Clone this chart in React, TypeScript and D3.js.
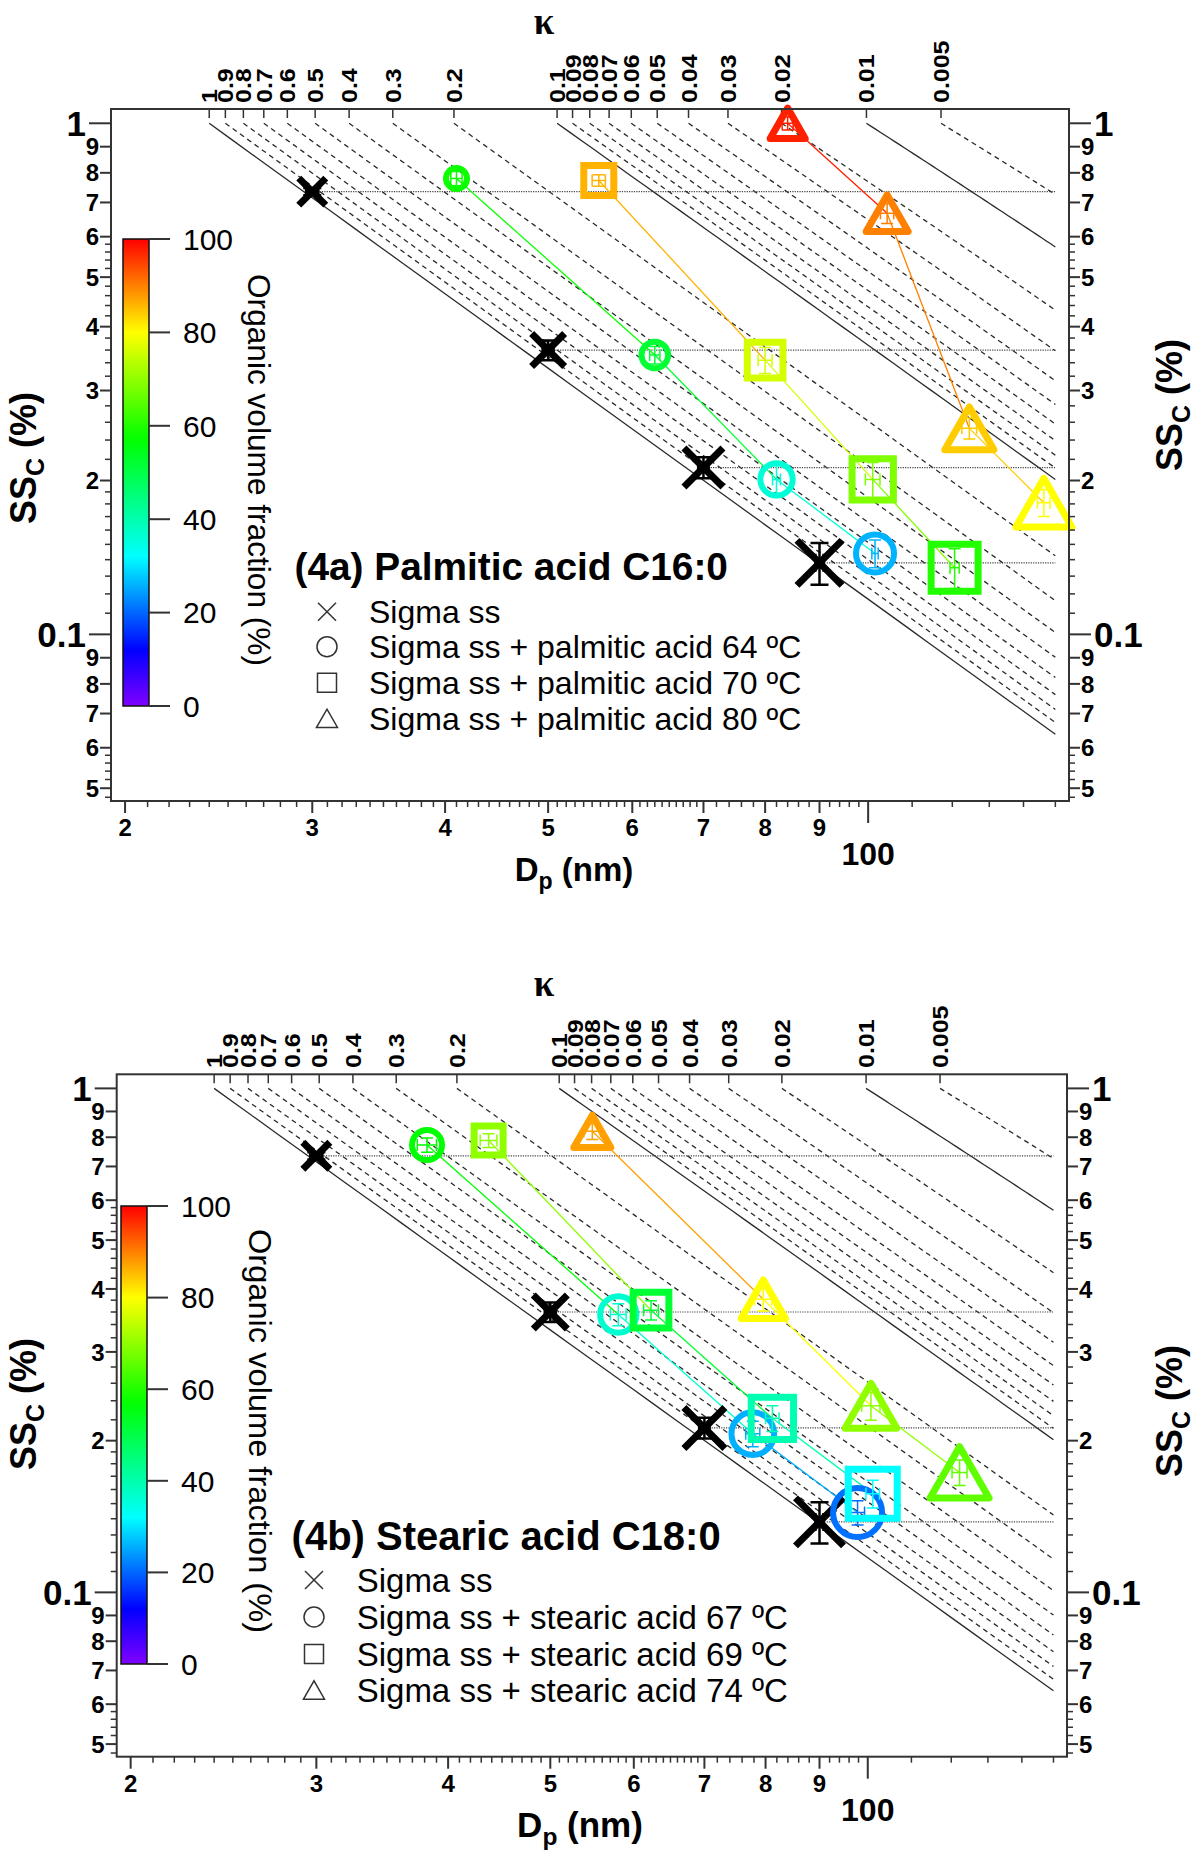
import React, { useEffect, useRef } from 'react';
import * as d3 from 'd3';

const W = 1200;
const H = 1864;
const SANS = "'Liberation Sans', Arial, Helvetica, sans-serif";
const SERIF = "'Liberation Serif', 'Times New Roman', serif";

// kappa isolines (top axis)
const kappaValues = [1, 0.9, 0.8, 0.7, 0.6, 0.5, 0.4, 0.3, 0.2, 0.1, 0.09, 0.08, 0.07, 0.06, 0.05, 0.04, 0.03, 0.02, 0.01, 0.005];
const kappaLabels = ['1', '0.9', '0.8', '0.7', '0.6', '0.5', '0.4', '0.3', '0.2', '0.1', '0.09', '0.08', '0.07', '0.06', '0.05', '0.04', '0.03', '0.02', '0.01', '0.005'];
const kappaSolid = [1, 0.1, 0.01];

// axis ticks
const dpLabelTicks = [20, 30, 40, 50, 60, 70, 80, 90];
const dpLabelText = ['2', '3', '4', '5', '6', '7', '8', '9'];
const dpMajorTicks = [100];
const dpMajorText = ['100'];
const ssMajorTicks = [0.1, 1];
const ssMajorText = ['0.1', '1'];
const ssLabelTicks = [0.05, 0.06, 0.07, 0.08, 0.09, 0.2, 0.3, 0.4, 0.5, 0.6, 0.7, 0.8, 0.9];
const ssLabelText = ['5', '6', '7', '8', '9', '2', '3', '4', '5', '6', '7', '8', '9'];
const cbarTicks = [0, 20, 40, 60, 80, 100];

// Sigma ss (same in both panels)
const sigmaDp = [30, 50, 70, 90];
const sigmaSS = [0.735, 0.36, 0.212, 0.138];
const sigmaSSErr = [0.012, 0.016, 0.01, 0.013];
const sigmaDpErr = [0.4, 0.6, 0.8, 0.8];

// (4a) Sigma ss + palmitic acid
const palm64Dp = [41, 63, 82, 101.5];
const palm64SS = [0.78, 0.352, 0.201, 0.144];
const palm64Org = [58, 52, 36, 26];
const palm64SSErr = [0.025, 0.014, 0.013, 0.009];
const palm64DpErr = [0.5, 0.7, 0.7, 0.7];

const palm70Dp = [55.8, 80, 101, 120.6];
const palm70SS = [0.773, 0.344, 0.201, 0.135];
const palm70Org = [86, 76, 68.5, 60];
const palm70SSErr = [0.02, 0.02, 0.016, 0.012];
const palm70DpErr = [0.8, 1.2, 1.6, 1.2];

const palm80Dp = [84, 104.2, 124.5, 146.3];
const palm80SS = [1.0, 0.667, 0.253, 0.181];
const palm80Org = [97.5, 90, 84, 80];
const palm80SSErr = [0.03, 0.03, 0.012, 0.011];
const palm80DpErr = [1.0, 1.5, 2.0, 2.0];

// (4b) Sigma ss + stearic acid
const stear67Dp = [38.2, 58, 77.8, 97.8];
const stear67SS = [0.772, 0.356, 0.2065, 0.144];
const stear67Org = [57, 36.6, 25.8, 20.8];
const stear67SSErr = [0.025, 0.018, 0.012, 0.008];
const stear67DpErr = [0.8, 1.0, 1.2, 1.5];

const stear69Dp = [43.7, 62.3, 81.2, 101.1];
const stear69SS = [0.788, 0.363, 0.2215, 0.157];
const stear69Org = [70, 52, 39.7, 32];
const stear69SSErr = [0.025, 0.016, 0.013, 0.01];
const stear69DpErr = [0.8, 1.0, 1.2, 1.5];

const stear74Dp = [54.8, 79.6, 100.7, 122.2];
const stear74SS = [0.822, 0.3815, 0.2345, 0.173];
const stear74Org = [87.5, 80, 70, 65.6];
const stear74SSErr = [0.03, 0.02, 0.015, 0.01];
const stear74DpErr = [1.0, 1.5, 2.0, 2.0];

const dpDomain: [number, number] = [19.4, 154.5];
const ssDomain: [number, number] = [0.0472, 1.0665];
const DP_END = 150;
const A_KELVIN = 2.1; // nm

const orgColor = d3
  .scaleLinear<string>()
  .domain([0, 12, 32, 57, 80, 100])
  .range(['#8000ff', '#0000ff', '#00ffff', '#00ff00', '#ffff00', '#ff0000'])
  .interpolate(d3.interpolateRgb)
  .clamp(true);

// kappa-Koehler critical supersaturation (%) for a dry diameter (nm)
function critSS(dry: number, kappa: number): number {
  const d3c = dry * dry * dry;
  const lnS = (lnw: number) => {
    const dw = Math.exp(lnw);
    const w3 = dw * dw * dw;
    return Math.log((w3 - d3c) / (w3 - d3c * (1 - kappa))) + A_KELVIN / dw;
  };
  const lo = Math.log(dry * 1.0005);
  const hi = Math.log(dry * 60);
  const n = 200;
  let bi = 0;
  let best = -Infinity;
  for (let i = 0; i <= n; i++) {
    const v = lnS(lo + ((hi - lo) * i) / n);
    if (v > best) { best = v; bi = i; }
  }
  let a = lo + ((hi - lo) * Math.max(bi - 1, 0)) / n;
  let b = lo + ((hi - lo) * Math.min(bi + 1, n)) / n;
  const gr = (Math.sqrt(5) - 1) / 2;
  for (let k = 0; k < 40; k++) {
    const c = b - gr * (b - a);
    const d = a + gr * (b - a);
    if (lnS(c) > lnS(d)) b = d; else a = c;
  }
  best = Math.max(best, lnS((a + b) / 2));
  return (Math.exp(best) - 1) * 100;
}

function dpAtOnePercent(kappa: number): number {
  let lo = Math.log(5);
  let hi = Math.log(1000);
  for (let i = 0; i < 50; i++) {
    const mid = (lo + hi) / 2;
    if (critSS(Math.exp(mid), kappa) > 1) lo = mid; else hi = mid;
  }
  return Math.exp((lo + hi) / 2);
}

const kappaCurves = kappaValues.map(k => {
  const d0 = dpAtOnePercent(k);
  const pts: [number, number][] = d3.range(0, 41).map(j => {
    const D = d0 * Math.pow(DP_END / d0, j / 40);
    return [D, j === 0 ? 1 : critSS(D, k)];
  });
  return { k, d0, pts };
});

type Shape = 'cross' | 'circle' | 'square' | 'triangle';
interface Series {
  shape: Shape;
  label: string;
  dp: number[];
  ss: number[];
  org: number[] | null;
  ssErr: number[];
  dpErr: number[];
  sizeRange: [number, number];
}

interface Panel {
  key: string;
  xRange: [number, number];
  yRange: [number, number];
  kappaSym: [number, number];
  kappaLabelY: number;
  ssLeft: [number, number];
  ssRight: [number, number];
  dpLabel: [number, number];
  dpSize: number;
  cbar: { x: number; top: number; bottom: number };
  cbarLabel: [number, number];
  cbarLabelLen: number;
  title: string;
  titlePos: [number, number];
  titleSize: number;
  legendSymX: number;
  legendTextX: number;
  legendRows: number[];
  legendSize: number;
  series: Series[];
}

const panels: Panel[] = [
  {
    key: 'a',
    xRange: [111, 1069],
    yRange: [801, 109],
    kappaSym: [544, 34],
    kappaLabelY: 103,
    ssLeft: [36, 458],
    ssRight: [1182, 405],
    dpLabel: [574, 881],
    dpSize: 33,
    cbar: { x: 123, top: 239, bottom: 706 },
    cbarLabel: [248, 470],
    cbarLabelLen: 392,
    title: '(4a) Palmitic acid C16:0',
    titlePos: [294.5, 580],
    titleSize: 38.8,
    legendSymX: 327,
    legendTextX: 369,
    legendRows: [611.7, 646.7, 682.7, 718.3],
    legendSize: 32,
    series: [
      { shape: 'cross', label: 'Sigma ss', dp: sigmaDp, ss: sigmaSS, org: null, ssErr: sigmaSSErr, dpErr: sigmaDpErr, sizeRange: [34, 52] },
      { shape: 'circle', label: 'Sigma ss + palmitic acid 64 \u00BAC', dp: palm64Dp, ss: palm64SS, org: palm64Org, ssErr: palm64SSErr, dpErr: palm64DpErr, sizeRange: [27, 44] },
      { shape: 'square', label: 'Sigma ss + palmitic acid 70 \u00BAC', dp: palm70Dp, ss: palm70SS, org: palm70Org, ssErr: palm70SSErr, dpErr: palm70DpErr, sizeRange: [37, 54] },
      { shape: 'triangle', label: 'Sigma ss + palmitic acid 80 \u00BAC', dp: palm80Dp, ss: palm80SS, org: palm80Org, ssErr: palm80SSErr, dpErr: palm80DpErr, sizeRange: [42, 63] }
    ]
  },
  {
    key: 'b',
    xRange: [116.7, 1067],
    yRange: [1756.7, 1074.3],
    kappaSym: [544, 996],
    kappaLabelY: 1068,
    ssLeft: [36, 1404],
    ssRight: [1182, 1411],
    dpLabel: [580, 1837],
    dpSize: 35,
    cbar: { x: 121, top: 1206, bottom: 1664 },
    cbarLabel: [249, 1431],
    cbarLabelLen: 404,
    title: '(4b) Stearic acid C18:0',
    titlePos: [291.6, 1550],
    titleSize: 40,
    legendSymX: 314,
    legendTextX: 356.7,
    legendRows: [1580, 1617, 1654, 1690],
    legendSize: 33,
    series: [
      { shape: 'cross', label: 'Sigma ss', dp: sigmaDp, ss: sigmaSS, org: null, ssErr: sigmaSSErr, dpErr: sigmaDpErr, sizeRange: [34, 55] },
      { shape: 'circle', label: 'Sigma ss + stearic acid 67 \u00BAC', dp: stear67Dp, ss: stear67SS, org: stear67Org, ssErr: stear67SSErr, dpErr: stear67DpErr, sizeRange: [36, 55] },
      { shape: 'square', label: 'Sigma ss + stearic acid 69 \u00BAC', dp: stear69Dp, ss: stear69SS, org: stear69Org, ssErr: stear69SSErr, dpErr: stear69DpErr, sizeRange: [36, 56] },
      { shape: 'triangle', label: 'Sigma ss + stearic acid 74 \u00BAC', dp: stear74Dp, ss: stear74SS, org: stear74Org, ssErr: stear74SSErr, dpErr: stear74DpErr, sizeRange: [44, 66] }
    ]
  }
];

// minor ticks
const dpSubTicks = [
  ...d3.range(21, 70).filter(v => v % 10 !== 0),
  72, 74, 76, 78, 82, 84, 86, 88, 92, 94, 96, 98,
  110, 120, 130, 140, 150
];
const ssSubTicks: number[] = [];
[0.01, 0.1].forEach(base => {
  [1.1, 1.2, 1.3, 1.4, 1.5, 1.6, 1.7, 1.8, 1.9, 2.2, 2.4, 2.6, 2.8, 3.2, 3.4, 3.6, 3.8, 4.2, 4.4, 4.6, 4.8, 5.2, 5.4, 5.6, 5.8].forEach(m => {
    const v = base * m;
    if (v > ssDomain[0] && v < ssDomain[1]) ssSubTicks.push(v);
  });
});

type G = d3.Selection<SVGGElement, unknown, null, undefined>;

function markerPath(shape: Shape, cx: number, cy: number, s: number): string {
  const h = s / 2;
  if (shape === 'cross') return `M${cx - h},${cy - h}L${cx + h},${cy + h}M${cx - h},${cy + h}L${cx + h},${cy - h}`;
  if (shape === 'square') return `M${cx - h},${cy - h}H${cx + h}V${cy + h}H${cx - h}Z`;
  if (shape === 'triangle') {
    const th = s * 0.87;
    return `M${cx - h},${cy + th / 2}L${cx},${cy - th / 2}L${cx + h},${cy + th / 2}Z`;
  }
  return `M${cx + h},${cy}A${h},${h} 0 1,1 ${cx - h},${cy}A${h},${h} 0 1,1 ${cx + h},${cy}Z`;
}

const markerStroke: Record<Shape, number> = { cross: 7, circle: 6, square: 7, triangle: 7 };

function drawPanel(svg: d3.Selection<SVGSVGElement, unknown, null, undefined>, p: Panel) {
  const x = d3.scaleLog().domain(dpDomain).range(p.xRange);
  const y = d3.scaleLog().domain(ssDomain).range(p.yRange);
  const [xL, xR] = p.xRange;
  const [yB, yT] = p.yRange;
  const g: G = svg.append('g').attr('font-family', SANS);
  const axisColor = '#333';

  // kappa isolines
  const line = d3.line<[number, number]>().x(d => x(d[0])).y(d => y(d[1]));
  const kg = g.append('g');
  kappaCurves.forEach((c, i) => {
    kg.append('path')
      .attr('d', line(c.pts) as string)
      .attr('fill', 'none')
      .attr('stroke', '#2a2a2a')
      .attr('stroke-width', 1.3)
      .attr('stroke-dasharray', kappaSolid.includes(c.k) ? null : '5,4');
    kg.append('line')
      .attr('x1', x(c.d0)).attr('x2', x(c.d0))
      .attr('y1', yT).attr('y2', yT + 9)
      .attr('stroke', axisColor).attr('stroke-width', 1.5);
    kg.append('text')
      .attr('transform', `translate(${x(c.d0) + 8},${p.kappaLabelY}) rotate(-90) scale(1,0.9)`)
      .attr('font-size', 25)
      .attr('font-weight', 'bold')
      .attr('fill', '#000')
      .text(kappaLabels[i]);
  });
  g.append('text')
    .attr('x', p.kappaSym[0])
    .attr('y', p.kappaSym[1])
    .attr('text-anchor', 'middle')
    .attr('font-family', SERIF)
    .attr('font-weight', 'bold')
    .attr('font-size', 37)
    .text('\u03BA');

  // dotted reference lines at the Sigma ss supersaturations
  sigmaSS.forEach((s, i) => {
    g.append('line')
      .attr('x1', x(sigmaDp[i])).attr('x2', x(DP_END))
      .attr('y1', y(s)).attr('y2', y(s))
      .attr('stroke', '#444')
      .attr('stroke-width', 1.2)
      .attr('stroke-dasharray', '1.2,1.2');
  });

  // connecting lines, each segment coloured by its starting point
  p.series.forEach(s => {
    if (!s.org) return;
    for (let i = 0; i < s.dp.length - 1; i++) {
      g.append('line')
        .attr('x1', x(s.dp[i])).attr('y1', y(s.ss[i]))
        .attr('x2', x(s.dp[i + 1])).attr('y2', y(s.ss[i + 1]))
        .attr('stroke', orgColor(s.org[i]))
        .attr('stroke-width', 1.3);
    }
  });

  // markers with error bars
  p.series.forEach(s => {
    const size = d3.scaleLinear().domain([0, s.dp.length - 1]).range(s.sizeRange);
    s.dp.forEach((dp, i) => {
      const color = s.org ? orgColor(s.org[i]) : '#000';
      const cx = x(dp);
      const cy = y(s.ss[i]);
      const sw = markerStroke[s.shape];
      const ew = s.org ? 1.5 : 2.5;
      const cap = s.org ? 6 : 9;
      const eg = g.append('g').attr('stroke', color).attr('stroke-width', ew).attr('fill', 'none');
      const y1 = y(s.ss[i] + s.ssErr[i]);
      const y2 = y(s.ss[i] - s.ssErr[i]);
      const x1 = x(dp - s.dpErr[i]);
      const x2 = x(dp + s.dpErr[i]);
      eg.append('path').attr('d',
        `M${cx},${y1}V${y2}M${cx - cap},${y1}H${cx + cap}M${cx - cap},${y2}H${cx + cap}` +
        `M${x1},${cy}H${x2}M${x1},${cy - cap}V${cy + cap}M${x2},${cy - cap}V${cy + cap}`);
      g.append('path')
        .attr('d', markerPath(s.shape, cx, cy, size(i) - sw))
        .attr('fill', 'none')
        .attr('stroke', color)
        .attr('stroke-width', sw)
        .attr('stroke-linejoin', s.shape === 'triangle' ? 'round' : 'miter');
    });
  });

  // frame
  g.append('rect')
    .attr('x', xL).attr('y', yT)
    .attr('width', xR - xL).attr('height', yB - yT)
    .attr('fill', 'none').attr('stroke', axisColor).attr('stroke-width', 2);

  // y ticks, both sides
  const yTick = (v: number, len: number, w: number) => {
    g.append('line').attr('x1', xL - len).attr('x2', xL).attr('y1', y(v)).attr('y2', y(v))
      .attr('stroke', axisColor).attr('stroke-width', w);
    g.append('line').attr('x1', xR).attr('x2', xR + len).attr('y1', y(v)).attr('y2', y(v))
      .attr('stroke', axisColor).attr('stroke-width', w);
  };
  ssSubTicks.forEach(v => yTick(v, 6, 1.5));
  ssLabelTicks.forEach((v, i) => {
    yTick(v, 11, 2);
    g.append('text').attr('x', xL - 12).attr('y', y(v)).attr('dy', '0.36em')
      .attr('text-anchor', 'end').attr('font-size', 24).attr('font-weight', 'bold').text(ssLabelText[i]);
    g.append('text').attr('x', xR + 12).attr('y', y(v)).attr('dy', '0.36em')
      .attr('text-anchor', 'start').attr('font-size', 24).attr('font-weight', 'bold').text(ssLabelText[i]);
  });
  ssMajorTicks.forEach((v, i) => {
    yTick(v, 22, 2);
    g.append('text').attr('x', xL - 25).attr('y', y(v)).attr('dy', '0.36em')
      .attr('text-anchor', 'end').attr('font-size', 35).attr('font-weight', 'bold').text(ssMajorText[i]);
    g.append('text').attr('x', xR + 25).attr('y', y(v)).attr('dy', '0.36em')
      .attr('text-anchor', 'start').attr('font-size', 35).attr('font-weight', 'bold').text(ssMajorText[i]);
  });

  // x ticks
  const xTick = (v: number, len: number, w: number) => {
    g.append('line').attr('x1', x(v)).attr('x2', x(v)).attr('y1', yB).attr('y2', yB + len)
      .attr('stroke', axisColor).attr('stroke-width', w);
  };
  dpSubTicks.forEach(v => xTick(v, 6, 1.5));
  dpLabelTicks.forEach((v, i) => {
    xTick(v, 12, 2);
    g.append('text').attr('x', x(v)).attr('y', yB + 35).attr('text-anchor', 'middle')
      .attr('font-size', 24).attr('font-weight', 'bold').text(dpLabelText[i]);
  });
  dpMajorTicks.forEach((v, i) => {
    xTick(v, 22, 2);
    g.append('text').attr('x', x(v)).attr('y', yB + 64).attr('text-anchor', 'middle')
      .attr('font-size', 32).attr('font-weight', 'bold').text(dpMajorText[i]);
  });

  // axis titles
  const ssTitle = (tx: number, ty: number) => {
    const t = g.append('text')
      .attr('transform', `translate(${tx},${ty}) rotate(-90)`)
      .attr('text-anchor', 'middle')
      .attr('font-size', 36)
      .attr('font-weight', 'bold');
    t.append('tspan').text('SS');
    t.append('tspan').attr('font-size', 25).attr('dy', 8).text('C');
    t.append('tspan').attr('dy', -8).text(' (%)');
  };
  ssTitle(p.ssLeft[0], p.ssLeft[1]);
  ssTitle(p.ssRight[0], p.ssRight[1]);

  const dpt = g.append('text')
    .attr('x', p.dpLabel[0]).attr('y', p.dpLabel[1])
    .attr('text-anchor', 'middle')
    .attr('font-size', p.dpSize)
    .attr('font-weight', 'bold');
  dpt.append('tspan').text('D');
  dpt.append('tspan').attr('font-size', p.dpSize * 0.7).attr('dy', 8).text('p');
  dpt.append('tspan').attr('dy', -8).text(' (nm)');

  // colour bar
  const gradId = `orgGrad-${p.key}`;
  const grad = svg.append('defs').append('linearGradient')
    .attr('id', gradId).attr('x1', '0%').attr('x2', '0%').attr('y1', '100%').attr('y2', '0%');
  d3.range(0, 101, 2).forEach(v => {
    grad.append('stop').attr('offset', `${v}%`).attr('stop-color', orgColor(v));
  });
  const cbW = 26;
  g.append('rect')
    .attr('x', p.cbar.x).attr('y', p.cbar.top)
    .attr('width', cbW).attr('height', p.cbar.bottom - p.cbar.top)
    .attr('fill', `url(#${gradId})`).attr('stroke', '#111').attr('stroke-width', 1.5);
  const cy = d3.scaleLinear().domain([0, 100]).range([p.cbar.bottom, p.cbar.top]);
  cbarTicks.forEach(v => {
    g.append('line')
      .attr('x1', p.cbar.x + cbW).attr('x2', p.cbar.x + cbW + 21)
      .attr('y1', cy(v)).attr('y2', cy(v))
      .attr('stroke', axisColor).attr('stroke-width', 2);
    g.append('text')
      .attr('x', p.cbar.x + cbW + 34).attr('y', cy(v)).attr('dy', '0.36em')
      .attr('font-size', 30).text(String(v));
  });
  g.append('text')
    .attr('transform', `translate(${p.cbarLabel[0]},${p.cbarLabel[1]}) rotate(90)`)
    .attr('text-anchor', 'middle')
    .attr('font-size', 31)
    .attr('textLength', p.cbarLabelLen)
    .attr('lengthAdjust', 'spacingAndGlyphs')
    .text('Organic volume fraction (%)');

  // title and legend
  g.append('text')
    .attr('x', p.titlePos[0]).attr('y', p.titlePos[1])
    .attr('font-size', p.titleSize).attr('font-weight', 'bold')
    .text(p.title);
  p.series.forEach((s, i) => {
    const ry = p.legendRows[i];
    const lsize: Record<Shape, number> = { cross: 18, circle: 20, square: 19, triangle: 21 };
    g.append('path')
      .attr('d', markerPath(s.shape, p.legendSymX, ry, lsize[s.shape]))
      .attr('fill', 'none').attr('stroke', '#333').attr('stroke-width', 1.5);
    g.append('text')
      .attr('x', p.legendTextX).attr('y', ry).attr('dy', '0.36em')
      .attr('font-size', p.legendSize).text(s.label);
  });
}

export default function App() {
  const svgRef = useRef<SVGSVGElement>(null);

  useEffect(() => {
    if (!svgRef.current) return;
    const svg = d3.select(svgRef.current);
    svg.selectAll('*').remove();
    panels.forEach(p => drawPanel(svg, p));
  }, []);

  return (
    <svg
      ref={svgRef}
      width={W}
      height={H}
      style={{ position: 'absolute', left: 0, top: 0, background: '#fff' }}
    />
  );
}
